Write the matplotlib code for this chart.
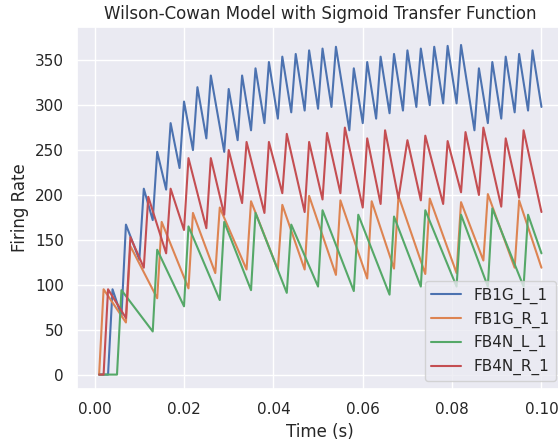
import matplotlib
matplotlib.use('Agg')
import matplotlib.pyplot as plt
import seaborn as sns

# vertices (peaks / troughs), time in s
fb1g_l_t = [0.001, 0.003, 0.004, 0.006, 0.007, 0.010, 0.011, 0.013, 0.014, 0.016,
            0.017, 0.019, 0.020, 0.022, 0.023, 0.025, 0.026, 0.029, 0.030, 0.032,
            0.033, 0.035, 0.036, 0.038, 0.039, 0.041, 0.042, 0.044, 0.045, 0.047,
            0.048, 0.050, 0.051, 0.053, 0.054, 0.057, 0.058, 0.060, 0.061, 0.063,
            0.064, 0.066, 0.067, 0.069, 0.070, 0.072, 0.073, 0.075, 0.076, 0.078,
            0.079, 0.081, 0.082, 0.085, 0.086, 0.088, 0.089, 0.091, 0.092, 0.094,
            0.095, 0.097, 0.098, 0.100]
fb1g_l_v = [0, 0, 95, 65, 167, 128, 207, 172, 248, 206,
            280, 230, 304, 250, 320, 263, 333, 248, 318, 261,
            333, 272, 341, 280, 348, 285, 354, 292, 357, 294,
            361, 296, 363, 298, 365, 272, 341, 280, 348, 285,
            354, 291, 357, 294, 361, 298, 363, 300, 365, 302,
            366, 302, 367, 272, 341, 280, 348, 285, 354, 292,
            357, 294, 361, 298]

fb1g_r_t = [0.001, 0.002, 0.007, 0.008, 0.014, 0.015, 0.021, 0.022, 0.027, 0.028,
            0.034, 0.035, 0.041, 0.042, 0.047, 0.048, 0.054, 0.055, 0.061, 0.062,
            0.067, 0.068, 0.074, 0.075, 0.081, 0.082, 0.087, 0.088, 0.094, 0.095,
            0.100]
fb1g_r_v = [0, 95, 58, 143, 85, 170, 96, 180, 113, 186,
            117, 193, 117, 189, 117, 199, 111, 194, 107, 193,
            118, 199, 112, 196, 113, 192, 127, 201, 119, 194,
            119]

fb4n_l_t = [0.001, 0.005, 0.006, 0.013, 0.014, 0.020, 0.021, 0.028, 0.029, 0.035,
            0.036, 0.043, 0.044, 0.050, 0.051, 0.058, 0.059, 0.066, 0.067, 0.073,
            0.074, 0.081, 0.082, 0.088, 0.089, 0.096, 0.097, 0.100]
fb4n_l_v = [0, 0, 94, 48, 139, 76, 165, 83, 170, 94,
            180, 91, 167, 98, 183, 93, 178, 89, 176, 98,
            183, 98, 178, 98, 185, 98, 178, 135]

fb4n_r_t = [0.001, 0.002, 0.003, 0.007, 0.008, 0.011, 0.012, 0.016, 0.017, 0.020,
            0.021, 0.025, 0.026, 0.029, 0.030, 0.033, 0.034, 0.038, 0.039, 0.042,
            0.043, 0.047, 0.048, 0.051, 0.052, 0.055, 0.056, 0.060, 0.061, 0.064,
            0.065, 0.068, 0.070, 0.073, 0.074, 0.078, 0.079, 0.082, 0.083, 0.086,
            0.087, 0.091, 0.092, 0.095, 0.096, 0.100]
fb4n_r_v = [0, 0, 95, 63, 153, 119, 198, 135, 207, 161,
            241, 163, 241, 178, 250, 191, 259, 180, 259, 202,
            268, 181, 259, 195, 269, 202, 275, 186, 263, 190,
            272, 196, 261, 194, 266, 190, 260, 203, 270, 200,
            275, 187, 263, 197, 272, 181]

sns.set_theme()

fig = plt.figure(figsize=(5.58, 4.43), dpi=100)
# the reference is cut off on the right, so the axes run past the edge
ax = fig.add_axes([0.138, 0.122, 0.872, 0.817])

ax.plot(fb1g_l_t, fb1g_l_v, label='FB1G_L_1')
ax.plot(fb1g_r_t, fb1g_r_v, label='FB1G_R_1')
ax.plot(fb4n_l_t, fb4n_l_v, label='FB4N_L_1')
ax.plot(fb4n_r_t, fb4n_r_v, label='FB4N_R_1')

ax.set_ylim(-16, 387)
ax.set_title('Wilson-Cowan Model with Sigmoid Transfer Function')
ax.set_xlabel('Time (s)')
ax.set_ylabel('Firing Rate')
ax.legend(loc='lower right')

fig.savefig('out.png', dpi=100)
